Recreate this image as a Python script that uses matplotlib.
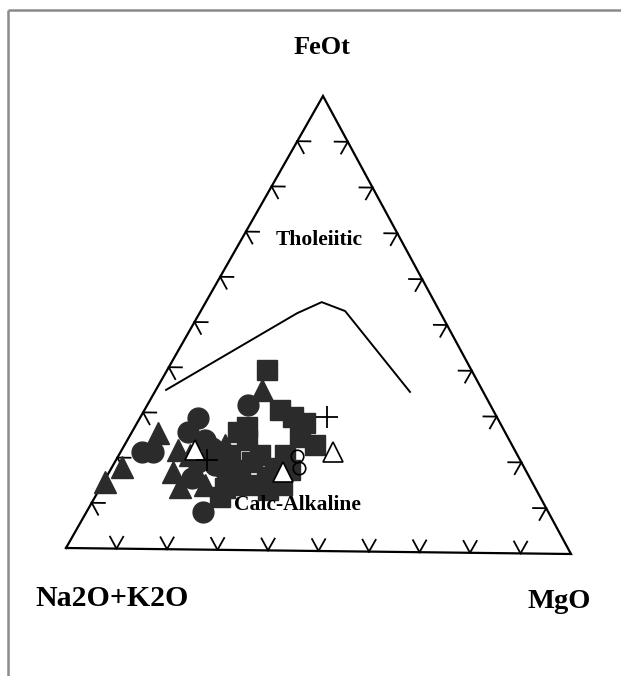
import matplotlib
matplotlib.use("Agg")
import matplotlib.pyplot as plt
import numpy as np

plt.rcParams["font.family"] = ["Liberation Serif", "DejaVu Serif"]

# AFM ternary data, in percent: A = Na2O+K2O, F = FeOt, M = MgO
boundary_A = [63.0, 28.6, 22.5, 18.8, 14.6]
boundary_F = [35.0, 52.2, 54.7, 52.8, 35.2]
boundary_M = [2.0, 19.2, 22.8, 28.4, 50.2]

square_A = [40.8, 42.4, 40.6, 38.9, 41.4, 39.2, 50.8, 52.3, 52.3, 51.3, 63.8, 46.3, 49.7, 56.9,
            55.6, 57.2, 47.0, 59.5, 53.6, 53.5, 50.2, 61.8, 53.2]
square_F = [39.6, 30.9, 29.4, 28.1, 25.0, 23.3, 27.1, 24.2, 16.1, 20.9, 11.6, 21.0, 18.1, 17.6,
            14.3, 20.9, 17.7, 14.3, 19.4, 13.3, 14.4, 13.6, 25.9]
square_M = [19.6, 26.7, 30.0, 33.0, 33.6, 37.5, 22.1, 23.5, 31.6, 27.8, 24.6, 32.7, 32.2, 25.5,
            30.1, 21.9, 35.3, 26.2, 27.0, 33.2, 35.4, 24.6, 20.9]

triangle_A = [43.9, 69.3, 80.1, 85.1, 67.1, 70.5, 70.7, 65.9, 61.3, 57.2, 65.2, 65.5]
triangle_F = [35.2, 25.5, 17.9, 14.6, 21.8, 17.0, 13.7, 17.5, 20.8, 23.0, 20.8, 14.2]
triangle_M = [20.9, 5.2, 2.0, 0.3, 11.1, 12.5, 15.6, 16.6, 17.9, 19.8, 14.0, 20.3]

circle_A = [48.3, 59.7, 63.2, 74.5, 72.3, 68.8, 67.3, 60.6, 59.8, 61.4, 60.1, 64.5]
circle_F = [31.9, 28.9, 25.8, 21.3, 21.3, 8.3, 15.7, 24.1, 17.6, 18.6, 22.4, 19.2]
circle_M = [19.8, 11.4, 11.0, 4.2, 6.4, 22.9, 17.0, 15.3, 22.6, 20.0, 17.5, 16.3]

open_tri_A = [36.4, 48.5, 63.7]
open_tri_F = [21.8, 17.3, 21.9]
open_tri_M = [41.8, 34.2, 14.4]

open_circ_A = [44.1, 44.9]
open_circ_F = [20.8, 18.2]
open_circ_M = [35.1, 36.9]

plus_A = [33.8, 62.4]
plus_F = [29.5, 19.7]
plus_M = [36.7, 17.9]

tick_steps = [10, 20, 30, 40, 50, 60, 70, 80, 90]

# Figure drawn in a pixel-like coordinate frame
W, H = 621, 676
fig = plt.figure(figsize=(W / 100, H / 100), dpi=100)
ax = fig.add_axes([0, 0, 1, 1])
ax.set_xlim(0, W)
ax.set_ylim(H, 0)
ax.axis("off")

# Triangle corners: A (lower left), F (top), M (lower right)
V_A = np.array([66.0, 548.0])
V_F = np.array([323.0, 96.0])
V_M = np.array([571.0, 554.0])


def tern(a, f, m):
    a = np.asarray(a, float)
    f = np.asarray(f, float)
    m = np.asarray(m, float)
    s = a + f + m
    x = (a * V_A[0] + f * V_F[0] + m * V_M[0]) / s
    y = (a * V_A[1] + f * V_F[1] + m * V_M[1]) / s
    return x, y


# page frame
ax.plot([8, 8], [10, H], color="#8a8a8a", lw=1.8, solid_capstyle="butt")
ax.plot([8, W], [10, 10], color="#8a8a8a", lw=1.8, solid_capstyle="butt")

# outline
ox, oy = tern([100, 0, 0, 100], [0, 100, 0, 0], [0, 0, 100, 0])
ax.plot(ox, oy, color="black", lw=1.6, solid_joinstyle="miter")

# chevron ticks along each edge
d = 2.6
for t in tick_steps:
    # bottom edge (F = 0)
    for p in ([100 - t - d, d, t], [100 - t, d, t - d]):
        xs, ys = tern([100 - t, p[0]], [0, p[1]], [t, p[2]])
        ax.plot(xs, ys, color="black", lw=1.3)
    # left edge (M = 0)
    for p in ([100 - t - d, t, d], [100 - t, t - d, d]):
        xs, ys = tern([100 - t, p[0]], [t, p[1]], [0, p[2]])
        ax.plot(xs, ys, color="black", lw=1.3)
    # right edge (A = 0)
    for p in ([d, t, 100 - t - d], [d, t - d, 100 - t]):
        xs, ys = tern([0, p[0]], [t, p[1]], [100 - t, p[2]])
        ax.plot(xs, ys, color="black", lw=1.3)

# tholeiitic / calc-alkaline divide
bx, by = tern(boundary_A, boundary_F, boundary_M)
ax.plot(bx, by, color="black", lw=1.4)

fill = "#2b2b2b"
x, y = tern(square_A, square_F, square_M)
ax.plot(x, y, "s", ms=14.5, color=fill, mec=fill, ls="none")
x, y = tern(triangle_A, triangle_F, triangle_M)
ax.plot(x, y, "^", ms=16.5, color=fill, mec=fill, ls="none")
x, y = tern(circle_A, circle_F, circle_M)
ax.plot(x, y, "o", ms=15, color=fill, mec=fill, ls="none")
x, y = tern(open_tri_A, open_tri_F, open_tri_M)
ax.plot(x, y, "^", ms=15, mfc="white", mec="black", mew=1.2, ls="none")
x, y = tern(open_circ_A, open_circ_F, open_circ_M)
ax.plot(x, y, "o", ms=9, mfc="none", mec="black", mew=1.2, ls="none")
x, y = tern(plus_A, plus_F, plus_M)
ax.plot(x, y, "+", ms=16, color="black", mew=1.3, ls="none")

# labels
ax.text(322, 48, "FeOt", ha="center", va="center", fontsize=19, fontweight="bold")
ax.text(112, 598, "Na2O+K2O", ha="center", va="center", fontsize=21.5, fontweight="bold")
ax.text(559, 602, "MgO", ha="center", va="center", fontsize=20.5, fontweight="bold")
ax.text(319, 240, "Tholeiitic", ha="center", va="center", fontsize=15.5, fontweight="bold")
ax.text(297, 505, "Calc-Alkaline", ha="center", va="center", fontsize=15.5, fontweight="bold")

fig.savefig("out.png", dpi=100)
